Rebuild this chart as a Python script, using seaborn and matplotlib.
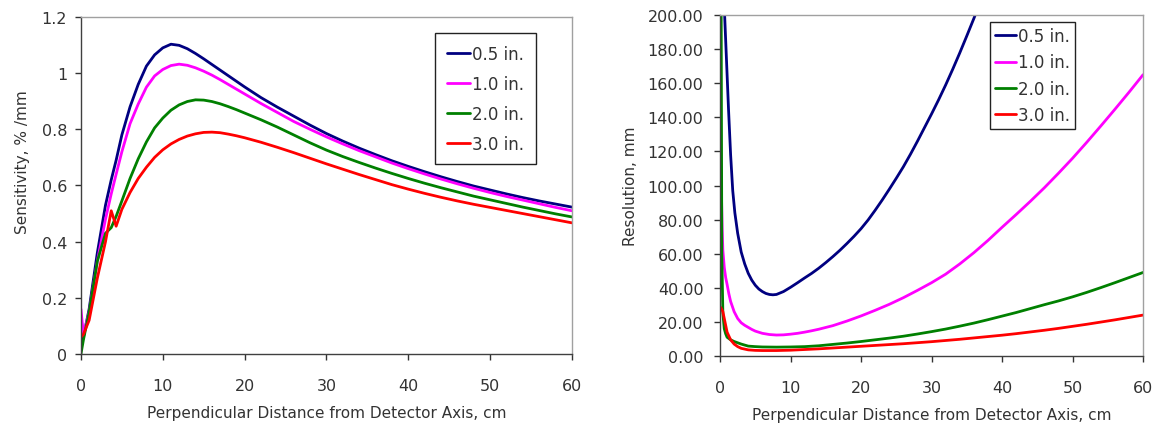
import matplotlib
matplotlib.use("Agg")
import matplotlib.pyplot as plt
import pandas as pd
import seaborn as sns
from matplotlib.ticker import FuncFormatter, FormatStrFormatter

# --- sensitivity (left panel) ---
sens_x = [0, 0.3, 1, 2, 3, 3.7, 4.3, 5, 6, 7, 8, 9, 10, 11, 12, 13, 14, 15, 16,
          17, 18, 19, 20, 22, 24, 26, 28, 30, 32, 34, 36, 38, 40, 42, 44, 46, 48,
          50, 52, 54, 56, 58, 60]
sens_05 = [0.03, 0.06, 0.16, 0.36, 0.53, 0.62, 0.69, 0.78, 0.88, 0.96, 1.025,
           1.065, 1.09, 1.103, 1.099, 1.087, 1.07, 1.051, 1.031, 1.011, 0.991,
           0.971, 0.951, 0.913, 0.879, 0.847, 0.815, 0.785, 0.758, 0.733, 0.71,
           0.688, 0.668, 0.649, 0.631, 0.614, 0.598, 0.584, 0.57, 0.557, 0.545,
           0.534, 0.523]
sens_10 = [0.16, 0.07, 0.15, 0.33, 0.48, 0.57, 0.64, 0.72, 0.82, 0.89, 0.95, 0.99,
           1.013, 1.027, 1.032, 1.028, 1.019, 1.007, 0.993, 0.977, 0.96, 0.943,
           0.926, 0.892, 0.86, 0.828, 0.80, 0.773, 0.748, 0.724, 0.702, 0.68, 0.66,
           0.641, 0.623, 0.606, 0.59, 0.575, 0.561, 0.548, 0.535, 0.522, 0.51]
sens_20 = [0.0, 0.05, 0.15, 0.33, 0.43, 0.45, 0.49, 0.545, 0.625, 0.695, 0.755,
           0.805, 0.84, 0.868, 0.887, 0.899, 0.905, 0.904, 0.899, 0.891, 0.881,
           0.87, 0.858, 0.834, 0.808, 0.78, 0.752, 0.726, 0.703, 0.682, 0.662,
           0.643, 0.625, 0.608, 0.592, 0.577, 0.562, 0.549, 0.536, 0.523, 0.511,
           0.499, 0.488]
sens_30 = [0.06, 0.07, 0.12, 0.27, 0.40, 0.51, 0.455, 0.515, 0.575, 0.625, 0.665,
           0.70, 0.727, 0.748, 0.764, 0.776, 0.784, 0.789, 0.79, 0.788, 0.783,
           0.777, 0.77, 0.754, 0.736, 0.717, 0.697, 0.677, 0.658, 0.639, 0.621,
           0.603, 0.587, 0.572, 0.558, 0.545, 0.533, 0.522, 0.511, 0.5, 0.489,
           0.478, 0.467]

# --- resolution (right panel) ---
res_x_05 = [0.6, 0.9, 1.2, 1.5, 1.8, 2.1, 2.5, 3, 3.5, 4, 4.5, 5, 5.5, 6, 6.5, 7,
            7.5, 8, 9, 10, 11, 12, 13, 14, 15, 16, 17, 18, 19, 20, 21, 22, 23, 24,
            25, 26, 27, 28, 29, 30, 31, 32, 33, 34, 35, 36, 37, 38]
res_05 = [205, 175, 145, 118, 97, 84, 72, 61, 54, 48.5, 44.5, 41.5, 39.3, 37.8,
          36.7, 36.1, 35.9, 36.1, 37.8, 40.3, 43, 45.8, 48.5, 51.5, 54.8, 58.3,
          62, 66, 70.2, 74.7, 79.8, 85.5, 91.5, 97.8, 104.3, 111, 118.3, 126,
          134, 142, 150.3, 159, 168.2, 177.8, 187.8, 198, 208.5, 219]
res_x_10 = [0.2, 0.3, 0.4, 0.6, 0.8, 1, 1.25, 1.5, 2, 2.5, 3, 3.5, 4, 4.5, 5, 6, 7,
            8, 9, 10, 11, 12, 13, 14, 16, 18, 20, 22, 24, 26, 28, 30, 32, 34, 36,
            38, 40, 42, 44, 46, 48, 50, 52, 54, 56, 58, 60]
res_10 = [95, 75, 62, 52, 46, 42, 36.5, 32, 26, 22, 19.5, 18, 16.8, 15.6, 14.6,
          13.3, 12.6, 12.3, 12.4, 12.8, 13.3, 14, 14.8, 15.7, 17.8, 20.5, 23.5,
          26.8, 30.3, 34.2, 38.5, 43, 48, 54, 60.6, 67.8, 75.5, 83, 90.7, 98.7,
          107.2, 116, 125.3, 134.9, 144.7, 154.7, 165]
res_x_20 = [0.1, 0.25, 0.4, 0.6, 0.8, 1, 1.5, 2, 3, 4, 5, 6, 8, 10, 12, 14, 16, 18,
            20, 22, 24, 26, 28, 30, 32, 34, 36, 38, 40, 42, 44, 46, 48, 50, 52, 54,
            56, 58, 60]
res_20 = [300, 60, 25, 16, 13, 11, 9.5, 8.5, 7, 5.8, 5.5, 5.3, 5.2, 5.3, 5.5, 6,
          6.8, 7.6, 8.5, 9.5, 10.5, 11.6, 12.9, 14.3, 15.8, 17.5, 19.3, 21.3,
          23.4, 25.5, 27.8, 30.1, 32.3, 34.7, 37.3, 40.1, 43, 46, 49]
res_x_30 = [0.1, 0.4, 0.7, 1, 1.5, 2, 2.5, 3, 4, 5, 6, 8, 10, 12, 14, 16, 18, 20,
            22, 24, 26, 28, 30, 32, 34, 36, 38, 40, 42, 44, 46, 48, 50, 52, 54, 56,
            58, 60]
res_30 = [28.5, 26, 20, 14, 9.5, 7, 5.5, 4.5, 3.6, 3.3, 3.2, 3.2, 3.4, 3.8, 4.2,
          4.7, 5.2, 5.7, 6.2, 6.7, 7.2, 7.8, 8.4, 9.1, 9.8, 10.6, 11.4, 12.2,
          13.1, 14.1, 15.1, 16.2, 17.4, 18.6, 19.9, 21.2, 22.6, 24]

labels = ["0.5 in.", "1.0 in.", "2.0 in.", "3.0 in."]
colors = ["#000080", "#FF00FF", "#008000", "#FF0000"]

sens = pd.concat([
    pd.DataFrame({"x": sens_x, "y": v, "size": lab})
    for v, lab in zip([sens_05, sens_10, sens_20, sens_30], labels)
])
res = pd.concat([
    pd.DataFrame({"x": xs, "y": v, "size": lab})
    for xs, v, lab in zip([res_x_05, res_x_10, res_x_20, res_x_30],
                          [res_05, res_10, res_20, res_30], labels)
])

sns.set_theme(style="ticks")
plt.rcParams["font.family"] = ["DejaVu Sans"]
plt.rcParams["text.color"] = "#333333"
plt.rcParams["xtick.color"] = "#333333"
plt.rcParams["ytick.color"] = "#333333"
plt.rcParams["axes.labelcolor"] = "#333333"

fig = plt.figure(figsize=(11.58, 4.31), dpi=100)
ax1 = fig.add_axes([0.0699, 0.1763, 0.424, 0.782])
ax2 = fig.add_axes([0.6218, 0.1717, 0.3653, 0.791])

palette = dict(zip(labels, colors))
sns.lineplot(data=sens, x="x", y="y", hue="size", palette=palette,
             hue_order=labels, linewidth=2, errorbar=None, ax=ax1)
sns.lineplot(data=res, x="x", y="y", hue="size", palette=palette,
             hue_order=labels, linewidth=2, errorbar=None, ax=ax2)

for ax in (ax1, ax2):
    ax.set_xlim(0, 60)
    ax.set_xticks(range(0, 61, 10))
    ax.set_xlabel("Perpendicular Distance from Detector Axis, cm",
                  fontsize=11, labelpad=9)
    ax.tick_params(axis="x", labelsize=11.5, length=4, width=1, pad=13)
    ax.tick_params(axis="y", labelsize=11.5, length=4, width=1)
    for side in ("left", "bottom"):
        ax.spines[side].set_color("#404040")
        ax.spines[side].set_linewidth(1)
    for side in ("top", "right"):
        ax.spines[side].set_visible(True)
        ax.spines[side].set_color("#a0a0a0")
        ax.spines[side].set_linewidth(1)

ax1.set_ylim(0, 1.2)
ax1.set_yticks([0, 0.2, 0.4, 0.6, 0.8, 1.0, 1.2])
ax1.yaxis.set_major_formatter(FuncFormatter(lambda v, p: f"{v:g}"))
ax1.tick_params(axis="y", pad=6)
ax1.set_ylabel("Sensitivity, % /mm", fontsize=11)
ax1.yaxis.set_label_coords(-0.104, 0.573)

ax2.set_ylim(0, 200)
ax2.set_yticks(range(0, 201, 20))
ax2.yaxis.set_major_formatter(FormatStrFormatter("%.2f"))
ax2.tick_params(axis="y", pad=8)
ax2.set_ylabel("Resolution, mm", fontsize=11, labelpad=7)

sns.move_legend(ax1, "upper right", bbox_to_anchor=(0.926, 0.9525), title="",
                frameon=True, fancybox=False, edgecolor="#222222",
                fontsize=12, labelspacing=0.72, handlelength=1.4,
                handletextpad=0.1, borderpad=0.7, borderaxespad=0)
sns.move_legend(ax2, "upper right", bbox_to_anchor=(0.839, 0.9795), title="",
                frameon=True, fancybox=False, edgecolor="#222222",
                fontsize=12, labelspacing=0.5, handlelength=1.3,
                handletextpad=0.1, borderpad=0.3, borderaxespad=0)
for ax in (ax1, ax2):
    leg = ax.get_legend()
    leg.get_frame().set_linewidth(1)
    leg.get_frame().set_alpha(1)

fig.savefig("out.png", dpi=100)
